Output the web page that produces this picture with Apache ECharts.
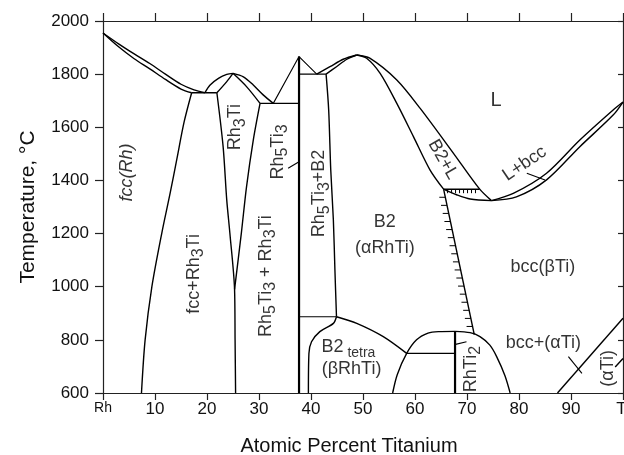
<!DOCTYPE html>
<html><head><meta charset="utf-8">
<script src="https://cdn.jsdelivr.net/npm/echarts@6/dist/echarts.min.js"></script>
<style>html,body{margin:0;padding:0;background:#fff}#c{width:624px;height:455px}</style>
</head><body><div id="c"></div>
<script>
// ---- axis ticks ----
const xTickLabels = {0:'Rh',10:'10',20:'20',30:'30',40:'40',50:'50',60:'60',70:'70',80:'80',90:'90',100:'Ti'};
const yMin = 600, yMax = 2000, yStep = 200;

// ---- phase boundaries [at.% Ti, °C] ----
const liquidusRh   = [[0,1955],[3,1914],[6,1876],[9,1840],[12,1800],[15,1762],[17.5,1741],[19.6,1730]];
const solidusRh    = [[0,1955],[3,1903],[6,1858],[9,1820],[12,1780],[15,1744],[17.05,1730]];
const eutFcc       = [[17.05,1730],[21.9,1730]];
const fccSolvus    = [[17.05,1730],[15.6,1620],[14.2,1480],[12.9,1351],[11.3,1201],[9.4,1000],[8.1,800],[7.4,600]];
const rh3TiLiqL    = [[19.6,1730],[20.6,1759],[22.2,1784],[23.8,1799],[25,1803]];
const rh3TiSolL    = [[21.9,1730],[23.8,1772],[25,1803]];
const rh3TiLiqR    = [[25,1803],[27.0,1790],[28.9,1759],[30.8,1722],[32.75,1690]];
const rh3TiSolR    = [[25,1803],[27.6,1753],[30.2,1690]];
const rh3TiBndL    = [[21.9,1730],[23.1,1527],[23.8,1326],[24.4,1201],[25.3,990],[25.4,800],[25.5,600]];
const rh3TiBndR    = [[30.2,1690],[28.9,1552],[27.6,1376],[26.6,1201],[25.3,990]];
const eut1690      = [[30.2,1690],[37.7,1690]];
const rh5Ti3Liq    = [[32.75,1690],[37.7,1866],[41.1,1800]];
const rh5Ti3Line   = [[37.7,1866],[37.7,600]];
const eut1800      = [[37.7,1800],[42.9,1800]];
const b2LiqL       = [[41.1,1800],[43.65,1828],[46.2,1856],[48.8,1872]];
const b2SolL       = [[42.9,1800],[44.9,1828],[46.9,1856],[48.8,1872]];
const b2LiqR       = [[48.8,1872],[51.3,1860],[56.5,1778],[61.0,1671],[67.4,1502],[72.4,1368],[74.7,1324]];
const b2SolR       = [[48.8,1872],[50.7,1860],[53.3,1803],[56.5,1690],[59.7,1565],[62.9,1439],[65.5,1367]];
const bccSolL      = [[65.5,1367],[68,1346],[70.6,1330],[74.7,1324]];
const bccLiqR      = [[74.7,1324],[78.9,1351],[85.3,1427],[91.7,1552],[98.1,1665],[100,1695]];
const bccSolR      = [[74.7,1324],[79.5,1338],[85.3,1402],[91.7,1527],[98.1,1646],[100,1695]];
const b2Boundary   = [[42.9,1800],[43.4,1665],[43.8,1439],[44.3,1251],[44.6,1063],[44.9,887]];
const eut887       = [[37.7,887],[44.9,887]];
const b2TetraL     = [[44.9,887],[44.3,862],[41.7,831],[40.1,793],[39.6,749],[39.5,600]];
const b2TetraR     = [[44.9,887],[48.8,862],[53.9,812],[58.4,749]];
const eut750       = [[58.4,749],[67.7,749]];
const domeL        = [[55.7,600],[56.6,670],[58.4,749],[60.3,800],[62.5,825],[64.5,831],[67.7,832]];
const rhTi2Line    = [[67.7,832],[67.7,600]];
const domeR        = [[67.7,832],[70.6,827],[72.5,812],[74.4,780],[75.7,737],[77.3,665],[78.3,600]];
const alphaTiBnd   = [[87.4,600],[100,881]];
const alphaTiShort = [[98.5,698],[100,730]];
const hatchOrder   = [[65.5,1367],[71.4,820]];
const hatchTop     = [[65.5,1367],[72.4,1367]];
// leader lines
const leadRh5Ti3   = [[35.6,1446],[37.7,1470]];
const leadLbcc     = [[81.5,1427],[85.0,1402]];
const leadRhTi2    = [[67.8,783],[69.9,793]];
const leadAlphaTi  = [[89.5,737],[92.1,674]];

// ---- phase labels ----
const labelTexts = ['{i|fcc(Rh)}','{n|Rh}{s|3}{n|Ti}','{n|Rh}{s|5}{n|Ti}{s|3}','{n|Rh}{s|5}{n|Ti}{s|3}{n|+B2}',
  '{n|fcc+Rh}{s|3}{n|Ti}','{n|Rh}{s|5}{n|Ti}{s|3}{n| + Rh}{s|3}{n|Ti}','{n|B2}','{n|(αRhTi)}','{n|bcc(βTi)}',
  '{n|bcc+(αTi)}','{n|(αTi)}','{n|RhTi}{s|2}','{n|B2}{t| tetra}','{n|(βRhTi)}','{L|L}','{n|B2+L}','{n|L+bcc}'];
const labelX = [4.8,25.6,33.8,41.8,17.7,31.5,54.2,54.2,84.6,84.7,97.3,70.9,47.2,47.8,75.6,65.2,81.2];
const labelT = [1430,1601,1507,1351,1048,1040,1240,1140,1070,786,693,690,769,688,1700,1477,1460];
const labelRot = [90,90,90,90,90,90,0,0,0,0,90,90,0,0,0,-60,34];

const thin = [liquidusRh,solidusRh,eutFcc,fccSolvus,rh3TiLiqL,rh3TiSolL,rh3TiLiqR,rh3TiSolR,rh3TiBndL,rh3TiBndR,eut1690,eut1800,
  b2LiqL,b2SolL,b2LiqR,b2SolR,bccSolL,bccLiqR,bccSolR,b2Boundary,b2TetraL,b2TetraR,domeL,domeR,alphaTiBnd,alphaTiShort];
const straight = [rh5Ti3Liq,eut887,eut750,leadRh5Ti3,leadLbcc,leadRhTi2,leadAlphaTi];
const thick = [rh5Ti3Line,rhTi2Line];

const series = [];
thin.forEach(d=>series.push({type:'line',data:d,smooth:0.3,showSymbol:false,silent:true,
  lineStyle:{color:'#000',width:1.4},z:3}));
straight.forEach(d=>series.push({type:'line',data:d,showSymbol:false,silent:true,
  lineStyle:{color:'#000',width:1.1},z:3}));
thick.forEach(d=>series.push({type:'line',data:d,showSymbol:false,silent:true,
  lineStyle:{color:'#000',width:2.2},z:3}));

// hatched lines: line with short ticks along it
function hatchSeries(seg, nTicks, dir, len){
  return {type:'custom',silent:true,z:4,
    data:[[seg[0][0],seg[0][1],seg[1][0],seg[1][1]]],
    renderItem:function(params, api){
      const a = api.coord([api.value(0),api.value(1)]);
      const b = api.coord([api.value(2),api.value(3)]);
      const ch = [{type:'line',shape:{x1:a[0],y1:a[1],x2:b[0],y2:b[1]},style:{stroke:'#000',lineWidth:1.4}}];
      for(let k=1;k<=nTicks;k++){
        const f = k/(nTicks+1);
        const x = a[0]+(b[0]-a[0])*f, y = a[1]+(b[1]-a[1])*f;
        ch.push({type:'line',shape:{x1:x,y1:y,x2:x+dir[0]*len,y2:y+dir[1]*len},style:{stroke:'#000',lineWidth:1}});
      }
      return {type:'group',children:ch};
    }};
}
series.push(hatchSeries(hatchOrder,17,[-1,0],6));
series.push(hatchSeries(hatchTop,8,[0,1],4));

const F = 'Liberation Sans';
const rich = {
  n:{fontFamily:F,fontSize:18,color:'#000',lineHeight:20,verticalAlign:'top'},
  i:{fontFamily:F,fontSize:18,fontStyle:'italic',color:'#000',lineHeight:20,verticalAlign:'top'},
  s:{fontFamily:F,fontSize:16,color:'#000',lineHeight:16,padding:[6,0,0,0],verticalAlign:'top'},
  t:{fontFamily:F,fontSize:14,color:'#000',lineHeight:14,padding:[8,0,0,0],verticalAlign:'top'},
  L:{fontFamily:F,fontSize:20,color:'#000',lineHeight:22}
};
series.push({type:'scatter',silent:true,symbolSize:0,z:5,
  data:labelTexts.map((t,k)=>({value:[labelX[k],labelT[k]],
    label:{show:true,position:'inside',formatter:t,rotate:labelRot[k],rich:rich,align:'center',verticalAlign:'middle'}}))});

const axisLineStyle = {color:'#222',width:1.2};
const option = {
  animation:false,
  backgroundColor:'#fff',
  grid:{left:103,right:1,top:21,bottom:62,containLabel:false,outerBoundsMode:'none'},
  xAxis:[
    {type:'value',min:0,max:100,interval:10,position:'bottom',
     axisLine:{show:true,onZero:false,lineStyle:axisLineStyle},
     axisTick:{show:true,inside:false,length:7,lineStyle:axisLineStyle},
     splitLine:{show:false},
     axisLabel:{margin:8,fontFamily:F,fontSize:17,color:'#111',
       formatter:v=>v===0?'{r|Rh}':xTickLabels[v],rich:{r:{fontFamily:F,fontSize:14,color:'#111'}}},
     name:'Atomic Percent Titanium',nameLocation:'middle',nameGap:43,
     nameTextStyle:{fontFamily:F,fontSize:20,color:'#111',padding:[0,28,0,0]}},
    {type:'value',min:0,max:100,interval:10,position:'top',
     axisLine:{show:true,onZero:false,lineStyle:axisLineStyle},
     axisTick:{show:true,inside:false,length:8,lineStyle:axisLineStyle},
     axisLabel:{show:false},splitLine:{show:false}}
  ],
  yAxis:[
    {type:'value',min:yMin,max:yMax,interval:yStep,position:'left',
     axisLine:{show:true,onZero:false,lineStyle:axisLineStyle},
     axisTick:{show:true,inside:false,length:8,lineStyle:axisLineStyle},
     splitLine:{show:false},
     axisLabel:{margin:14,fontFamily:F,fontSize:17,color:'#111',formatter:v=>String(v)},
     name:'Temperature, °C',nameLocation:'middle',nameGap:64,
     nameTextStyle:{fontFamily:F,fontSize:21,color:'#111'}},
    {type:'value',min:yMin,max:yMax,interval:yStep,position:'right',
     axisLine:{show:true,onZero:false,lineStyle:axisLineStyle},
     axisTick:{show:true,inside:true,length:5,lineStyle:axisLineStyle},
     axisLabel:{show:false},splitLine:{show:false}}
  ],
  series:series
};
echarts.init(document.getElementById('c'),null,{renderer:'canvas'}).setOption(option);
</script></body></html>
